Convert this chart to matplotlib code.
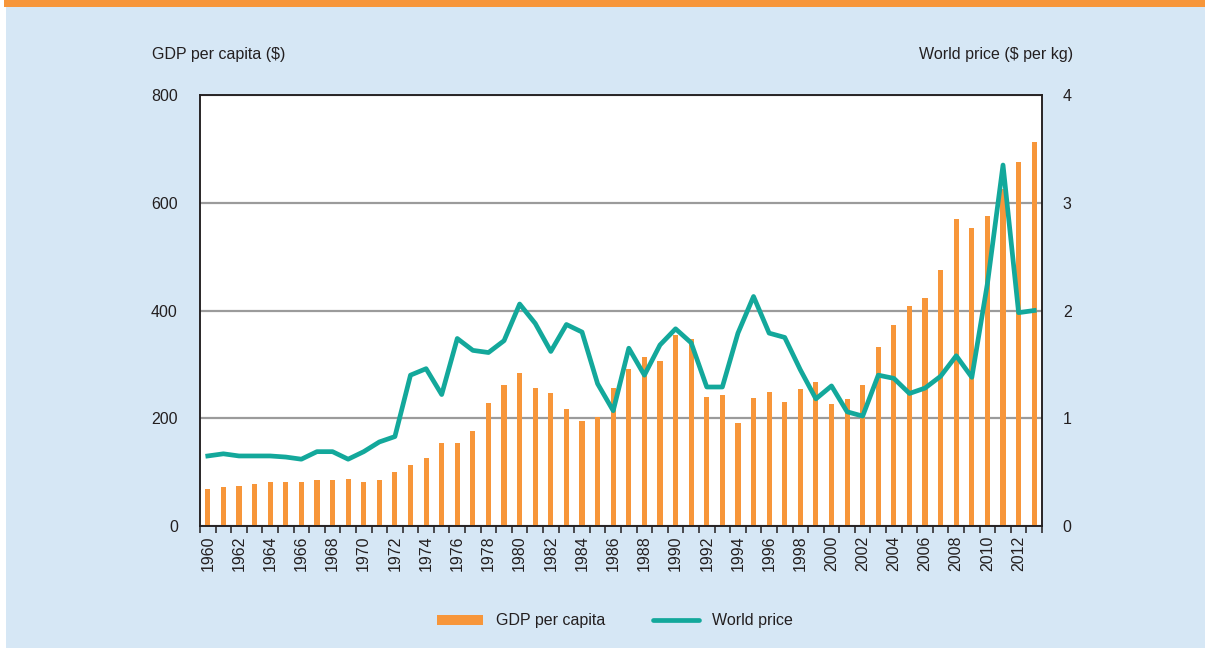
import numpy as np
import matplotlib.pyplot as plt
from matplotlib.patches import Patch, Rectangle
from matplotlib.lines import Line2D

plt.rcParams['font.family'] = ['Liberation Sans Narrow', 'Liberation Sans', 'DejaVu Sans']

# --[data]---------------------------------------------------------------------
years = list(range(1960, 2014))
gdp_per_capita = [68, 72, 75, 78, 82, 82, 82, 85, 85, 87,
                  82, 85, 100, 113, 126, 154, 154, 176, 228, 262,
                  284, 256, 246, 218, 195, 202, 256, 291, 313, 307,
                  354, 348, 240, 243, 192, 237, 249, 230, 255, 268,
                  227, 236, 262, 332, 373, 408, 424, 475, 570, 554,
                  576, 625, 675, 713]
world_price = [0.65, 0.67, 0.65, 0.65, 0.65, 0.64, 0.62, 0.69, 0.69, 0.62,
               0.69, 0.78, 0.83, 1.40, 1.46, 1.22, 1.74, 1.63, 1.61, 1.72,
               2.06, 1.88, 1.62, 1.87, 1.80, 1.32, 1.07, 1.65, 1.40, 1.68,
               1.83, 1.70, 1.29, 1.29, 1.79, 2.13, 1.79, 1.75, 1.45, 1.18,
               1.30, 1.06, 1.02, 1.40, 1.37, 1.23, 1.28, 1.39, 1.58, 1.38,
               2.25, 3.35, 1.98, 2.00]

gdp_ticks = [0, 200, 400, 600, 800]
price_ticks = [0, 1, 2, 3, 4]

orange = '#f7963a'
teal = '#13a89b'
bg = '#d6e7f5'
txt = '#231f20'
fs = 11.5

# --[figure]-------------------------------------------------------------------
fig = plt.figure(figsize=(12.05, 6.48), dpi=100)
fig.patch.set_facecolor('white')
fig.patches.append(Rectangle((6 / 1205, 0), 1, 1 - 7 / 648, transform=fig.transFigure,
                             facecolor=bg, edgecolor='none', zorder=-10))
fig.patches.append(Rectangle((4 / 1205, 1 - 7 / 648), 1, 7 / 648, transform=fig.transFigure,
                             facecolor=orange, edgecolor='none', zorder=-10))

ax = fig.add_axes([200 / 1205, 1 - 526 / 648, 842 / 1205, 431 / 648])
ax.set_facecolor('white')
x = np.arange(len(years))
ax.bar(x, gdp_per_capita, width=0.33, color=orange, zorder=2)
ax.set_xlim(-0.5, len(years) - 0.5)
ax.set_ylim(0, 800)
ax.set_yticks(gdp_ticks)
ax.yaxis.grid(True, color='#9b9b9b', linewidth=1.6)
ax.set_axisbelow(True)

ax.set_xticks(x[::2])
ax.set_xticklabels([str(y) for y in years[::2]], rotation=90)
ax.set_xticks(np.arange(len(years) + 1) - 0.5, minor=True)
ax.tick_params(axis='x', which='major', length=0, pad=7, labelsize=fs, colors=txt)
ax.tick_params(axis='x', which='minor', length=5, width=1.1, color=txt, direction='out')
ax.tick_params(axis='y', length=0, pad=16, labelsize=fs, colors=txt)

ax2 = ax.twinx()
ax2.plot(x, world_price, color=teal, linewidth=3.4, zorder=5)
ax2.set_ylim(0, 4)
ax2.set_yticks(price_ticks)
ax2.tick_params(axis='y', length=0, pad=15, labelsize=fs, colors=txt)

for a in (ax, ax2):
    for s in a.spines.values():
        s.set_color(txt)
        s.set_linewidth(1.1)

fig.text(152 / 1205, 1 - 55 / 648, 'GDP per capita ($)', fontsize=fs, color=txt, va='center', ha='left')
fig.text(1073 / 1205, 1 - 55 / 648, 'World price ($ per kg)', fontsize=fs, color=txt, va='center', ha='right')

handles = [Patch(facecolor=orange, edgecolor='none'),
           Line2D([0], [0], color=teal, linewidth=3.4, solid_capstyle='round')]
fig.legend(handles, ['GDP per capita', 'World price'], loc='center',
           bbox_to_anchor=(615 / 1205, 1 - 621 / 648), ncol=2, frameon=False,
           fontsize=fs, handlelength=2.9, handleheight=0.65, handletextpad=0.8,
           columnspacing=3.0, labelcolor=txt)

fig.savefig('out.png', dpi=100, facecolor=fig.get_facecolor())
